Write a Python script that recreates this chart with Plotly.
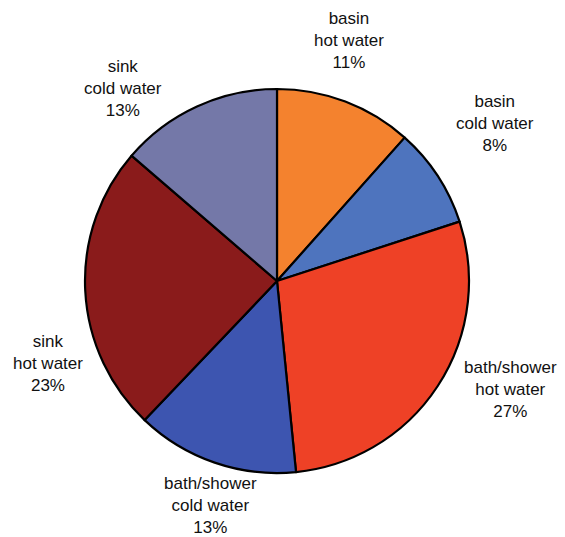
import plotly.graph_objects as go

# Water use by fixture, percent of total
categories = ["basin<br>hot water", "basin<br>cold water", "bath/shower<br>hot water",
              "bath/shower<br>cold water", "sink<br>hot water", "sink<br>cold water"]
shares = [11, 8, 27, 13, 23, 13]
colors = ["#F4822E", "#4E74BE", "#EE4126", "#3D55B0", "#8A1B1B", "#7478A8"]

# Where each label sits on the page (pixels from top-left)
label_xy = [(349, 41), (495, 123), (510, 389), (210, 505), (48, 363), (123, 88)]

W, H = 565, 537
cx, cy, r = 277, 281, 192

fig = go.Figure(go.Pie(
    labels=categories,
    values=shares,
    sort=False,
    direction="clockwise",
    rotation=0,
    marker=dict(colors=colors, line=dict(color="#000000", width=2.2)),
    textinfo="none",
    hoverinfo="label+percent",
    showlegend=False,
    domain=dict(x=[(cx - r) / W, (cx + r) / W], y=[1 - (cy + r) / H, 1 - (cy - r) / H]),
))

for name, val, (px, py) in zip(categories, shares, label_xy):
    fig.add_annotation(
        x=px / W, y=1 - py / H, xref="paper", yref="paper",
        text=f"{name}<br>{val}%", showarrow=False,
        xanchor="center", yanchor="middle", align="center",
        font=dict(family="Liberation Sans, Arial, sans-serif", size=17, color="#111111"),
    )

fig.update_layout(
    width=W, height=H,
    margin=dict(l=0, r=0, t=0, b=0),
    paper_bgcolor="white", plot_bgcolor="white",
)

fig.write_html("out.html")
